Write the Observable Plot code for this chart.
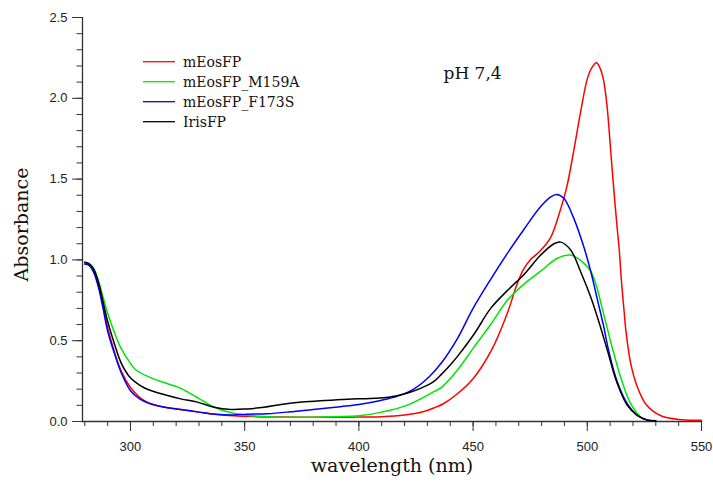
<!DOCTYPE html>
<html>
<head>
<meta charset="utf-8">
<script src="https://cdn.jsdelivr.net/npm/d3@7"></script>
<script src="https://cdn.jsdelivr.net/npm/@observablehq/plot@0.6"></script>
<style>
  html, body { margin: 0; padding: 0; background: #fff; }
  #wrap { position: relative; width: 713px; height: 486px; }
  #legend { position: absolute; left: 0; top: 0; pointer-events: none; }
</style>
</head>
<body>
<div id="wrap"><div id="chart"></div><svg id="legend" width="713" height="486"></svg></div>
<script>
// ---- data ----
const seriesNames = ["mEosFP", "mEosFP_M159A", "mEosFP_F173S", "IrisFP"];
const seriesColors = ["#ff0000", "#00e600", "#0000ff", "#000000"];

const mEosFP_wl = [280,282,284,286,288,290,293,296,300,304,308,315,322,330,337,345,355,365,380,395,410,420,428,433,437,443,450,458,465,469,472,475,479,484,488,491,494,497,500,502,504,505.5,507,508,509,510,511,512,513,514,515,516,517,519,522,526,532,540,550];
const mEosFP_abs = [0.975,0.97,0.93,0.84,0.72,0.58,0.43,0.31,0.21,0.15,0.115,0.088,0.074,0.058,0.045,0.035,0.03,0.028,0.026,0.027,0.03,0.04,0.06,0.085,0.11,0.17,0.265,0.44,0.67,0.84,0.94,1.0,1.05,1.14,1.30,1.45,1.67,1.91,2.12,2.19,2.22,2.19,2.12,2.03,1.9,1.72,1.54,1.37,1.21,1.06,0.86,0.70,0.55,0.36,0.21,0.10,0.037,0.012,0.008];

const m159a_wl = [280,282,284,286,288,290,293,296,300,302.3,309,316,322,329,336.6,342.4,351,360,370,380,390,400,410,421,433,436,443,450.4,457.7,465,472.3,479.6,486.9,492.7,498.5,501.5,504,506,508.5,510.5,514.7,519,523.4,525.7];
const m159a_abs = [0.985,0.975,0.945,0.87,0.77,0.67,0.55,0.45,0.36,0.32,0.27,0.235,0.205,0.15,0.09,0.06,0.038,0.03,0.026,0.027,0.03,0.035,0.058,0.10,0.186,0.21,0.316,0.46,0.60,0.75,0.85,0.93,1.01,1.03,0.98,0.93,0.84,0.73,0.59,0.48,0.27,0.11,0.027,0.01];

const f173s_wl = [280,282,284,286,288,290,293,296,300,304,308,315,322,330,337,345,351,360,370,380,392,400,409.5,417,424,431,436,443,450,457.7,465,472.3,479.6,484,486.6,489.8,494,498.5,501.5,504.5,507.3,509,513,517.5,522,526.3,530];
const f173s_abs = [0.975,0.965,0.92,0.83,0.70,0.56,0.42,0.30,0.19,0.14,0.113,0.088,0.074,0.058,0.045,0.04,0.045,0.048,0.06,0.075,0.092,0.105,0.13,0.157,0.20,0.28,0.36,0.51,0.70,0.88,1.04,1.19,1.33,1.39,1.405,1.38,1.26,1.08,0.93,0.75,0.58,0.46,0.25,0.11,0.037,0.008,0.004];

const iris_wl = [280,282,284,286,288,290,293,296,300,304.5,307.4,314.7,322,329.3,336.6,344,351,358.5,366,375,385,395,405,413,421,427,433,436,440,443,450.4,457.7,465,472.3,479.6,485.4,488.4,492.8,497,501.5,505,509,513,517.5,522,526.3,530];
const iris_abs = [0.985,0.975,0.94,0.86,0.74,0.62,0.48,0.36,0.27,0.22,0.20,0.167,0.14,0.12,0.088,0.074,0.078,0.088,0.105,0.12,0.13,0.138,0.143,0.15,0.175,0.205,0.25,0.29,0.35,0.40,0.54,0.70,0.81,0.91,1.03,1.10,1.11,1.06,0.93,0.77,0.62,0.43,0.24,0.10,0.037,0.01,0.005];

const xMajorTicks = [300, 350, 400, 450, 500, 550];
const yMajorTicks = [0, 0.5, 1.0, 1.5, 2.0, 2.5];
const xDomain = [279, 550];
const yDomain = [0, 2.5];

// ---- build table ----
const wls = [mEosFP_wl, m159a_wl, f173s_wl, iris_wl];
const abss = [mEosFP_abs, m159a_abs, f173s_abs, iris_abs];
const rows = [];
seriesNames.forEach((name, i) => {
  wls[i].forEach((w, j) => rows.push({series: name, wl: w, abs: abss[i][j]}));
});
const xMinorTicks = d3.range(280, 551, 10);
const yMinorTicks = d3.range(0, 26, 1).map(d => d / 10);

const axisColor = "#333";
const serif = "'DejaVu Serif', serif";

const chart = Plot.plot({
  width: 713,
  height: 486,
  marginLeft: 82,
  marginRight: 12,
  marginTop: 17,
  marginBottom: 65,
  x: {domain: xDomain},
  y: {domain: yDomain},
  color: {domain: seriesNames, range: seriesColors},
  style: {fontFamily: "'Liberation Sans', Arial, sans-serif", fontSize: "13px", color: "#222", background: "#fff", overflow: "visible"},
  marks: [
    Plot.axisX({ticks: xMinorTicks, tickSize: 5, tickFormat: () => "", label: null, stroke: axisColor}),
    Plot.axisX({ticks: xMajorTicks, tickSize: 10, tickPadding: 10, tickFormat: d => String(d), label: null, stroke: axisColor}),
    Plot.axisY({ticks: yMinorTicks, tickSize: 5.5, tickFormat: () => "", label: null, stroke: axisColor}),
    Plot.axisY({ticks: yMajorTicks, tickSize: 10, tickPadding: 5, tickFormat: d3.format(".1f"), label: null, stroke: axisColor}),
    Plot.ruleX([xDomain[0]], {stroke: axisColor, strokeWidth: 1.3}),
    Plot.ruleY([yDomain[0]], {stroke: axisColor, strokeWidth: 1.3}),
    Plot.line(rows, {x: "wl", y: "abs", z: "series", stroke: "series", strokeWidth: 1.5, curve: "catmull-rom"}),
    Plot.text(["wavelength (nm)"], {frameAnchor: "bottom", dy: 50, fontFamily: serif, fontSize: 19, fill: "#111"}),
    Plot.text(["Absorbance"], {frameAnchor: "left", textAnchor: "middle", dx: -61, dy: 5, rotate: -90, fontFamily: serif, fontSize: 19, fill: "#111"}),
    Plot.text(["pH 7,4"], {frameAnchor: "top-left", dx: 361, dy: 49, textAnchor: "start", fontFamily: serif, fontSize: 17, fill: "#111"})
  ]
});
document.getElementById("chart").append(chart);

// ---- legend overlay ----
const leg = d3.select("#legend");
seriesNames.forEach((name, i) => {
  const y = 61.7 + i * 20;
  leg.append("line").attr("x1", 143).attr("x2", 175).attr("y1", y).attr("y2", y)
    .attr("stroke", seriesColors[i]).attr("stroke-width", 1.3);
  leg.append("text").attr("x", 183).attr("y", y + 5)
    .attr("font-family", serif).attr("font-size", 14).attr("fill", "#111").text(name);
});
</script>
</body>
</html>
